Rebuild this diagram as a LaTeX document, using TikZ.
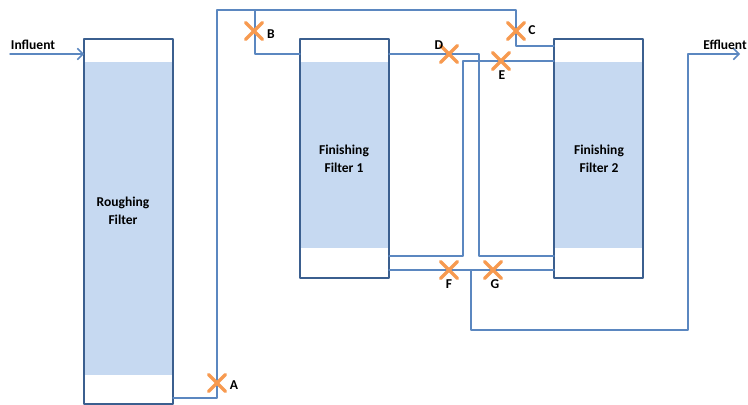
\documentclass[tikz,border=0pt]{standalone}
\usepackage{fontspec}
\setmainfont{Carlito}
\usetikzlibrary{arrows.meta,shapes.misc}
\definecolor{media}{HTML}{C6D9F1}
\definecolor{shell}{HTML}{3B5F8F}
\definecolor{pipe}{HTML}{5B87C0}
\definecolor{valvec}{HTML}{F79A50}
\tikzset{
	shellbox/.style={draw=shell, line width=1.4pt},
	pipeline/.style={draw=pipe, line width=0.85pt},
	valve/.style={cross out, draw=valvec, line width=2pt, minimum size=9.5pt, inner sep=0pt, outer sep=0pt},
	lbl/.style={font=\fontsize{7.7}{9.9}\selectfont\bfseries, align=center, inner sep=0pt}
}
\begin{document}
\begin{tikzpicture}[x=0.02cm, y=-0.02cm, line join=round, line cap=round]
	\useasboundingbox (0,0) rectangle (748,405);
	\path
	(84,39) coordinate (R1) (173,404) coordinate (R2)
	(300,39) coordinate (Fa1) (389,278) coordinate (Fa2)
	(554,39) coordinate (Fb1) (643,278) coordinate (Fb2)
	(10,54) coordinate (In) (84,54) coordinate (In')
	(173,398) coordinate (a1) (217,398) coordinate (a2) (217,10) coordinate (a3)
	(255,10) coordinate (b1) (255,54) coordinate (b2) (300,54) coordinate (b3)
	(516,10) coordinate (c1) (516,46) coordinate (c2) (554,46) coordinate (c3)
	(389,54) coordinate (d1) (479,54) coordinate (d2) (479,256) coordinate (d3) (554,256) coordinate (d4)
	(389,256) coordinate (e1) (463,256) coordinate (e2) (463,61) coordinate (e3) (554,61) coordinate (e4)
	(389,270) coordinate (f1) (554,270) coordinate (f2)
	(471,270) coordinate (g1) (471,330) coordinate (g2) (688,330) coordinate (g3) (688,54) coordinate (g4) (740,54) coordinate (Out);
	% filter media
	\fill[media] (84,62) rectangle (173,375);
	\fill[media] (300,62) rectangle (389,248);
	\fill[media] (554,62) rectangle (643,248);
	\foreach \p/\q in {R1/R2, Fa1/Fa2, Fb1/Fb2}
	\draw[shellbox] (\p) rectangle (\q);
	% pipes
	\draw[pipeline, -{Straight Barb[length=3.2pt,width=6.5pt]}] (In) -- (In');
	\draw[pipeline] (a1) -- (a2) -- (a3) -- (c1) -- (c2) -- (c3);
	\draw[pipeline] (b1) -- (b2) -- (b3);
	\draw[pipeline] (d1) -- (d2) -- (d3) -- (d4);
	\draw[pipeline] (e1) -- (e2) -- (e3) -- (e4);
	\draw[pipeline] (f1) -- (f2);
	\draw[pipeline, -{Straight Barb[length=3.2pt,width=6.5pt]}] (g1) -- (g2) -- (g3) -- (g4) -- (Out);
	% valves
	\foreach \n/\x/\y in {xA/217/383, xB/254/31, xC/516/31, xD/449/54, xE/501/61, xF/449/270, xG/493/270}
	\node[valve] (\n) at (\x,\y) {};
	% labels
	\node[lbl] (tR) at (123,211) {Roughing\\Filter};
	\node[lbl] (tFa) at (344,159) {Finishing\\Filter 1};
	\node[lbl] (tFb) at (599,159) {Finishing\\Filter 2};
	\node[lbl] (tIn) at (33,45) {Influent};
	\node[lbl] (tOut) at (725,45) {Effluent};
	\node[lbl] (tA) at (234,385) {A};
	\node[lbl] (tB) at (271,34) {B};
	\node[lbl] (tC) at (532,30) {C};
	\node[lbl] (tD) at (439,45) {D};
	\node[lbl] (tE) at (502,75) {E};
	\node[lbl] (tF) at (449,284) {F};
	\node[lbl] (tG) at (495,284) {G};
\end{tikzpicture}
\end{document}
